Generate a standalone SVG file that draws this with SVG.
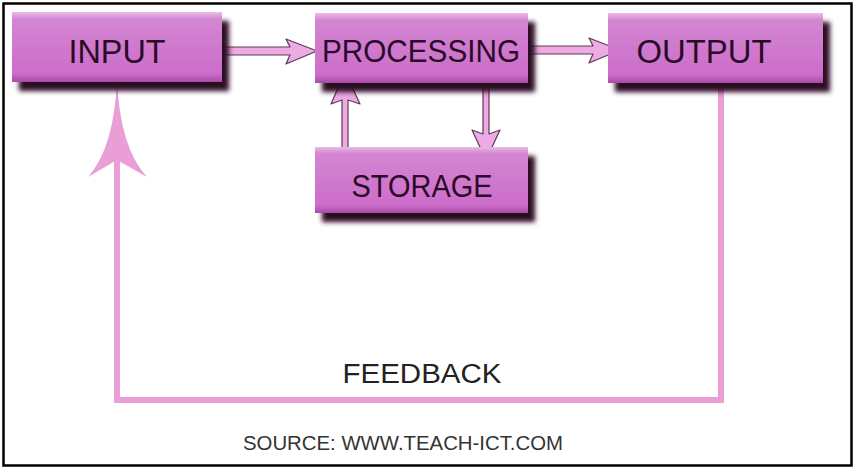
<svg xmlns="http://www.w3.org/2000/svg" width="855" height="471" viewBox="0 0 855 471">
<defs>
  <linearGradient id="face" x1="0" y1="0" x2="0" y2="1">
    <stop offset="0" stop-color="#e8bce6"/>
    <stop offset="0.1" stop-color="#d386d2"/>
    <stop offset="0.88" stop-color="#cc6dca"/>
    <stop offset="1" stop-color="#a84ca6"/>
  </linearGradient>
  <filter id="shadow" x="-10%" y="-20%" width="130%" height="160%">
    <feGaussianBlur in="SourceAlpha" stdDeviation="2.5"/>
    <feOffset dx="7" dy="9" result="b"/>
    <feFlood flood-color="#2a0820"/>
    <feComposite in2="b" operator="in"/>
    <feMerge><feMergeNode/><feMergeNode in="SourceGraphic"/></feMerge>
  </filter>
</defs>
<style>
  .box { fill: url(#face); filter: url(#shadow); }
  .lbl { font-family: "Liberation Sans", Arial, sans-serif; fill: #2a0a26; text-anchor: middle; }
  .blk { fill: #eeaae2; stroke: #5e3a58; stroke-width: 1.2; stroke-linejoin: round; }
  .fb { fill: none; stroke: #e99fd6; stroke-width: 6; }
  .txt { font-family: "Liberation Sans", Arial, sans-serif; text-anchor: middle; }
</style>
<rect x="0" y="0" width="855" height="471" fill="#ffffff"/>
<rect x="3.5" y="3.5" width="848" height="462" fill="none" stroke="#000" stroke-width="2.5"/>

<g id="connectors">
  <path class="fb" d="M721,83 L721,400 L117,400 L117,150"/>
  <path d="M117,80 Q114,148 88,177 L117,160 L147,177 Q120,148 117,80 Z" fill="#e99fd6"/>
  <path class="blk" d="M222,47 L290,47 L286,39 L317,51 L286,64 L290,55 L222,55 Z"/>
  <path class="blk" d="M528,46 L593,46 L589,38 L620,50 L589,63 L593,54 L528,54 Z"/>
  <path class="blk" d="M483,70 L489,70 L489,134 L500,130 L486,160 L472,130 L483,134 Z"/>
  <path class="blk" d="M342,163 L348,163 L348,100 L360,104 L345,72 L331,104 L342,100 Z"/>
</g>

<g id="input">
  <rect class="box" x="12" y="12" width="210" height="70"/>
  <text class="lbl" x="117" y="63" font-size="34" textLength="97" lengthAdjust="spacingAndGlyphs">INPUT</text>
</g>
<g id="processing">
  <rect class="box" x="315" y="13" width="213" height="70"/>
  <text class="lbl" x="421" y="62" font-size="32" textLength="198" lengthAdjust="spacingAndGlyphs">PROCESSING</text>
</g>
<g id="output">
  <rect class="box" x="608" y="13" width="215" height="70"/>
  <text class="lbl" x="704" y="63" font-size="34" textLength="135" lengthAdjust="spacingAndGlyphs">OUTPUT</text>
</g>
<g id="storage">
  <rect class="box" x="315" y="147" width="213" height="66"/>
  <text class="lbl" x="422" y="197" font-size="32" textLength="141" lengthAdjust="spacingAndGlyphs">STORAGE</text>
</g>

<text class="txt" x="422" y="383" font-size="27" fill="#222" textLength="159" lengthAdjust="spacingAndGlyphs">FEEDBACK</text>
<text class="txt" x="403" y="450" font-size="20" fill="#333" textLength="320" lengthAdjust="spacingAndGlyphs">SOURCE: WWW.TEACH-ICT.COM</text>
</svg>
